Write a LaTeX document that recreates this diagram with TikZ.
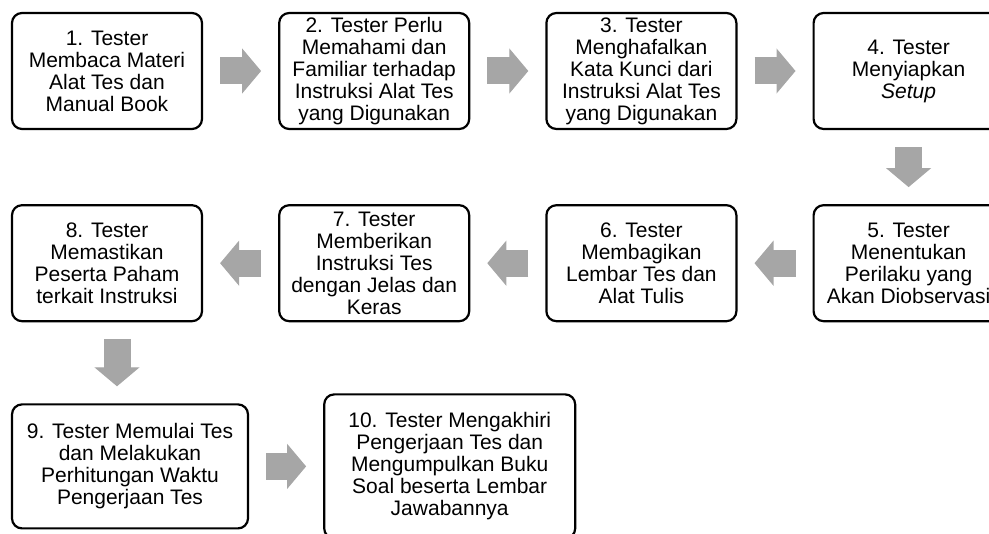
\documentclass[tikz,border=0pt]{standalone}
\usepackage{fontspec}
\setmainfont{Liberation Sans}
\usepackage{xcolor}
\usepackage{tikz}
\usetikzlibrary{arrows.meta,
                positioning}
\definecolor{arrowgray}{HTML}{A6A6A6}
\tikzstyle{stepbox} = [draw, line width=2.2pt, rounded corners=10pt, fill=white, align=center, minimum width=190pt, minimum height=116pt, inner sep=2pt, font=\fontsize{21}{22}\selectfont]
\tikzstyle{blockarrow} = [draw=arrowgray, line width=27pt, shorten <=17pt, shorten >=17pt, -{Triangle[length=19pt, width=45pt, line width=1.2pt]}]

\begin{document}
\begin{tikzpicture}
    \useasboundingbox (0pt,0pt) rectangle (989pt,-534pt);

    \node[stepbox] (ts1) at (107pt,-71pt) {1. Tester\\Membaca Materi\\Alat Tes dan\\Manual Book};
    \node[stepbox] (ts2)[right= 75pt of ts1] {2. Tester Perlu\\Memahami dan\\Familiar terhadap\\Instruksi Alat Tes\\yang Digunakan};
    \node[stepbox] (ts3)[right= 75pt of ts2] {3. Tester\\Menghafalkan\\Kata Kunci dari\\Instruksi Alat Tes\\yang Digunakan};
    \node[stepbox] (ts4)[right= 75pt of ts3] {4. Tester\\Menyiapkan\\\textit{Setup}};
    \node[stepbox] (ts5)[below= 74pt of ts4] {5. Tester\\Menentukan\\Perilaku yang\\Akan Diobservasi};
    \node[stepbox] (ts6)[left= 75pt of ts5] {6. Tester\\Membagikan\\Lembar Tes dan\\Alat Tulis};
    \node[stepbox] (ts7)[left= 75pt of ts6] {7. Tester\\Memberikan\\Instruksi Tes\\dengan Jelas dan\\Keras};
    \node[stepbox] (ts8)[left= 75pt of ts7] {8. Tester\\Memastikan\\Peserta Paham\\terkait Instruksi};
    \node[stepbox, minimum width=236pt, minimum height=124pt] (ts9)[below= 81pt of ts8.south west, anchor=north west] {9. Tester Memulai Tes\\dan Melakukan\\Perhitungan Waktu\\Pengerjaan Tes};
    \node[stepbox, minimum width=251pt, minimum height=144pt] (ts10)[right= 74pt of ts9] {10. Tester Mengakhiri\\Pengerjaan Tes dan\\Mengumpulkan Buku\\Soal beserta Lembar\\Jawabannya};

    \draw [blockarrow] (ts1) -- (ts2);
    \draw [blockarrow] (ts2) -- (ts3);
    \draw [blockarrow] (ts3) -- (ts4);
    \draw [blockarrow] (ts4) -- (ts5);
    \draw [blockarrow] (ts5) -- (ts6);
    \draw [blockarrow] (ts6) -- (ts7);
    \draw [blockarrow] (ts7) -- (ts8);
    \draw [blockarrow] ([xshift=10pt]ts8.south) -- ([xshift=10pt]ts8.south |- ts9.north);
    \draw [blockarrow] (ts9) -- (ts10);
\end{tikzpicture}
\end{document}
